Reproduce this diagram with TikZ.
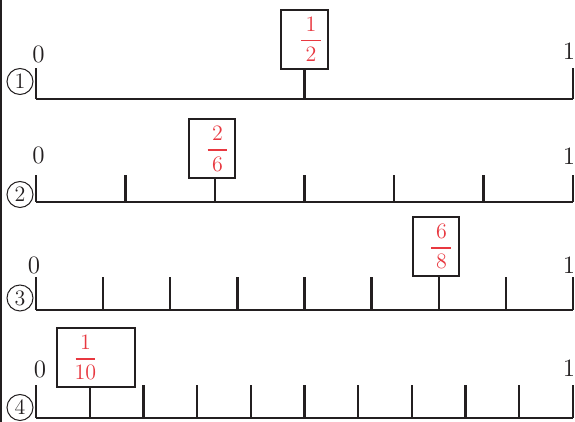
\documentclass[tikz,border=0pt]{standalone}
\usepackage{amsmath}
\usepackage{tikz}
\usepackage{xcolor}
\definecolor{ink}{RGB}{35,31,32}
\definecolor{fracred}{RGB}{232,56,64}
\newcommand{\redfrac}[2]{$\genfrac{}{}{0.9pt}{0}{\makebox[10pt]{#1}}{\makebox[10pt]{#2}}$}

\begin{document}
\begin{tikzpicture}[x=0.5pt, y=-0.5pt, line width=1.15pt, ink,
    endlabel/.style={font=\fontsize{12.5}{14}\selectfont, inner sep=0pt},
    circnum/.style={circle, draw, line width=0.5pt, minimum size=13pt, inner sep=0pt, font=\fontsize{11}{12}\selectfont},
    fracbox/.style={draw, line width=1pt, inner sep=0pt, minimum height=29.5pt},
    fraclabel/.style={fracred, font=\fontsize{11}{12}\selectfont, inner sep=0pt}]
    \useasboundingbox (0,0) rectangle (575,422);
    \draw[line width=1pt] (1,0) -- (1,422);
    % number lines: divisions / baseline / tick height / tick under the box
    \foreach \n/\yb/\h/\m [count=\k] in {2/99/31/1, 6/202/27/2, 8/310/33/6, 10/418/33/1} {
        \coordinate (zero\k) at (36,\yb);
        \coordinate (one\k) at (573,\yb);
        \draw (zero\k) -- (one\k);
        \foreach \i in {0,...,\n} {
            \coordinate (t\k-\i) at ({36+537*\i/\n},\yb);
            \ifnum\i=\m\else
                \draw (t\k-\i) -- ++(0,-\h);
            \fi
        }
    }
    % end labels and circled numbers
    \foreach \k/\zx/\zy/\oy/\cy in {1/38.5/54/51/81.5, 2/38.5/155/156/194.5, 3/34/265/265/298, 4/40/369/368.5/407.5} {
        \node[endlabel] (lz\k) at (\zx,\zy) {0};
        \node[endlabel] (lo\k) at (569,\oy) {1};
        \node[circnum] (c\k) at (20,\cy) {\k};
    }
    % boxed fractions
    \node[fracbox, minimum width=23.5pt] (half) at (305,39.5) {};
    \node[fraclabel] (halfv) at (311,39) {\redfrac{1}{2}};
    \draw (t1-1) -- (t1-1 |- half.south);
    \node[fracbox, minimum width=23pt] (twosix) at (212,149) {};
    \node[fraclabel] (twosixv) at (217.5,149) {\redfrac{2}{6}};
    \draw (t2-2) -- (t2-2 |- twosix.south);
    \node[fracbox, minimum width=23pt] (sixeight) at (436,246.5) {};
    \node[fraclabel] (sixeightv) at (441.5,246.5) {\redfrac{6}{8}};
    \draw (t3-6) -- (t3-6 |- sixeight.south);
    \node[fracbox, minimum width=39pt] (onetenth) at (96,357.5) {};
    \node[fraclabel] (onetenthv) at (85.5,357.5) {\redfrac{1}{10}};
    \draw (t4-1) -- (t4-1 |- onetenth.south);
\end{tikzpicture}
\end{document}
